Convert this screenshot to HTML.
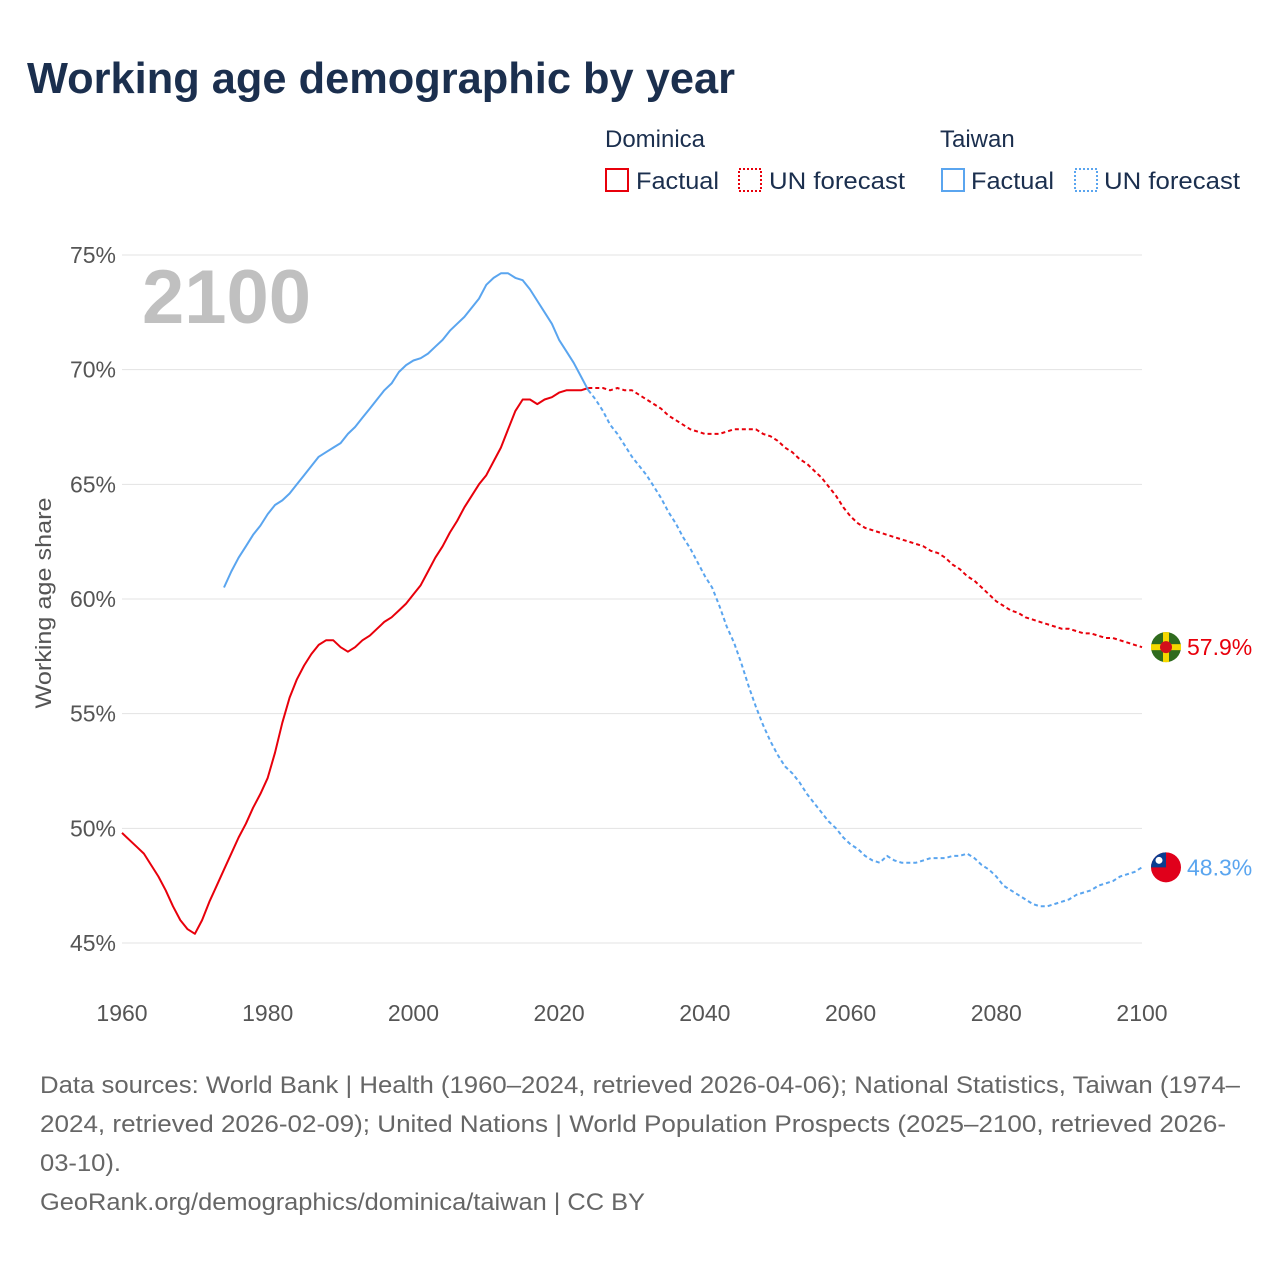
<!DOCTYPE html>
<html><head><meta charset="utf-8"><style>
body{margin:0;background:#fff;font-family:"Liberation Sans",sans-serif;}
#wrap{position:relative;width:1280px;height:1280px;overflow:hidden;}
</style></head><body>
<div id="wrap">
<svg id="chart" width="1280" height="1280" style="position:absolute;left:0;top:0">
<text x="27" y="93" font-size="44" font-weight="bold" fill="#1b2f4e" textLength="708" lengthAdjust="spacingAndGlyphs">Working age demographic by year</text>
<g font-size="24" fill="#1b2f4e">
<text x="605" y="147">Dominica</text>
<rect x="606" y="169" width="22" height="22" fill="none" stroke="#e8000b" stroke-width="2"/>
<text x="636" y="189" textLength="83" lengthAdjust="spacingAndGlyphs">Factual</text>
<rect x="739" y="169" width="22" height="22" fill="none" stroke="#e8000b" stroke-width="2" stroke-dasharray="2,2"/>
<text x="769" y="189" textLength="136" lengthAdjust="spacingAndGlyphs">UN forecast</text>
<text x="940" y="147">Taiwan</text>
<rect x="942" y="169" width="22" height="22" fill="none" stroke="#5aa5ef" stroke-width="2"/>
<text x="971" y="189" textLength="83" lengthAdjust="spacingAndGlyphs">Factual</text>
<rect x="1075" y="169" width="22" height="22" fill="none" stroke="#5aa5ef" stroke-width="2" stroke-dasharray="2,2"/>
<text x="1104" y="189" textLength="136" lengthAdjust="spacingAndGlyphs">UN forecast</text>
</g>
<text x="142" y="323" font-size="76" font-weight="bold" fill="#c0c0c0">2100</text>
<text transform="translate(51,603) rotate(-90)" text-anchor="middle" font-size="22" fill="#555" textLength="211" lengthAdjust="spacingAndGlyphs">Working age share</text>
<g id="grid"></g><g id="series"></g>
<g font-size="24" fill="#666">
<text x="40" y="1093" textLength="1200" lengthAdjust="spacingAndGlyphs">Data sources: World Bank | Health (1960–2024, retrieved 2026-04-06); National Statistics, Taiwan (1974–</text>
<text x="40" y="1132" textLength="1186" lengthAdjust="spacingAndGlyphs">2024, retrieved 2026-02-09); United Nations | World Population Prospects (2025–2100, retrieved 2026-</text>
<text x="40" y="1171" textLength="81" lengthAdjust="spacingAndGlyphs">03-10).</text>
<text x="40" y="1210" textLength="605" lengthAdjust="spacingAndGlyphs">GeoRank.org/demographics/dominica/taiwan | CC BY</text>
</g>
</svg></div>
<script>
const yTicks=[45,50,55,60,65,70,75];
const xTicks=[1960,1980,2000,2020,2040,2060,2080,2100];
const domFactual=[49.8,49.5,49.2,48.9,48.4,47.9,47.3,46.6,46.0,45.6,45.4,46.0,46.8,47.5,48.2,48.9,49.6,50.2,50.9,51.5,52.2,53.3,54.6,55.7,56.5,57.1,57.6,58.0,58.2,58.2,57.9,57.7,57.9,58.2,58.4,58.7,59.0,59.2,59.5,59.8,60.2,60.6,61.2,61.8,62.3,62.9,63.4,64.0,64.5,65.0,65.4,66.0,66.6,67.4,68.2,68.7,68.7,68.5,68.7,68.8,69.0,69.1,69.1,69.1,69.2];
const domForecast=[69.2,69.2,69.2,69.1,69.2,69.1,69.1,68.9,68.7,68.5,68.3,68.0,67.8,67.6,67.4,67.3,67.2,67.2,67.2,67.3,67.4,67.4,67.4,67.4,67.2,67.1,66.9,66.6,66.4,66.1,65.9,65.6,65.3,64.9,64.5,64.0,63.6,63.3,63.1,63.0,62.9,62.8,62.7,62.6,62.5,62.4,62.3,62.1,62.0,61.8,61.5,61.3,61.0,60.8,60.5,60.2,59.9,59.7,59.5,59.4,59.2,59.1,59.0,58.9,58.8,58.7,58.7,58.6,58.5,58.5,58.4,58.3,58.3,58.2,58.1,58.0,57.9];
const twFactual=[60.5,61.2,61.8,62.3,62.8,63.2,63.7,64.1,64.3,64.6,65.0,65.4,65.8,66.2,66.4,66.6,66.8,67.2,67.5,67.9,68.3,68.7,69.1,69.4,69.9,70.2,70.4,70.5,70.7,71.0,71.3,71.7,72.0,72.3,72.7,73.1,73.7,74.0,74.2,74.2,74.0,73.9,73.5,73.0,72.5,72.0,71.3,70.8,70.3,69.7,69.1];
const twForecast=[69.1,68.7,68.2,67.6,67.2,66.7,66.2,65.8,65.4,64.9,64.4,63.8,63.3,62.7,62.2,61.6,61.0,60.5,59.7,58.8,58.1,57.2,56.2,55.3,54.5,53.8,53.2,52.7,52.4,52.0,51.5,51.1,50.7,50.3,50.0,49.6,49.3,49.1,48.8,48.6,48.5,48.8,48.6,48.5,48.5,48.5,48.6,48.7,48.7,48.7,48.8,48.8,48.9,48.7,48.4,48.2,47.9,47.5,47.3,47.1,46.9,46.7,46.6,46.6,46.7,46.8,46.9,47.1,47.2,47.3,47.5,47.6,47.7,47.9,48.0,48.1,48.3];
const NS='http://www.w3.org/2000/svg';
const X=y=>122+(y-1960)*(1020/140);
const Y=v=>255+(75-v)*(688/30);
function mk(t,a,p){const e=document.createElementNS(NS,t);for(const k in a)e.setAttribute(k,a[k]);p.appendChild(e);return e;}
const grid=document.getElementById('grid'),ser=document.getElementById('series');
yTicks.forEach(v=>{
  const l=mk('line',{x1:122,x2:1142,y1:Y(v),y2:Y(v),stroke:'#e3e3e3','stroke-width':1},grid);
  
  
  const t=mk('text',{x:116,y:Y(v)+8,'text-anchor':'end','font-size':23,fill:'#555'},grid);
  t.textContent=v+'%';
  
  
});
xTicks.forEach(v=>{
  const t=mk('text',{x:X(v),y:1021,'text-anchor':'middle','font-size':23,fill:'#555'},grid);
  t.textContent=v;
  
  
});
function line(arr,start,color,dash,name){
  const d=arr.map((v,i)=>(i?'L':'M')+X(start+i).toFixed(1)+','+Y(v).toFixed(1)).join('');
  const p=mk('path',{d:d,fill:'none',stroke:color,'stroke-width':2,'stroke-linejoin':'round'},ser);
  if(dash)p.setAttribute('stroke-dasharray','4,3');
  
  
}
line(domFactual,1960,'#e8000b',false,'dominica-factual-line');
line(domForecast,2024,'#e8000b',true,'dominica-forecast-line');
line(twFactual,1974,'#5aa5ef',false,'taiwan-factual-line');
line(twForecast,2024,'#5aa5ef',true,'taiwan-forecast-line');
function endMark(v,color,name,flag){
  const cy=Y(v),g=mk('g',{},ser);
  
  
  if(flag==='dm'){
    mk('circle',{cx:1166,cy:cy,r:15,fill:'#2f6b1e'},g);
    mk('rect',{x:1151,y:cy-3,width:30,height:6,fill:'#f5d800'},g);
    mk('rect',{x:1163,y:cy-15,width:6,height:30,fill:'#f5d800'},g);
    mk('circle',{cx:1166,cy:cy,r:6,fill:'#d2101a'},g);
  }else{
    mk('circle',{cx:1166,cy:cy,r:15,fill:'#e0001b'},g);
    mk('path',{d:`M1151,${cy} A15,15 0 0 1 1166,${cy-15} L1166,${cy} Z`,fill:'#0a3d91'},g);
    mk('circle',{cx:1159,cy:cy-7,r:3.5,fill:'#fff'},g);
  }
  const t=mk('text',{x:1187,y:cy+8,'font-size':23,fill:color},g);
  t.textContent=v.toFixed(1)+'%';
}
endMark(domForecast[domForecast.length-1],'#e8000b','dominica','dm');
endMark(twForecast[twForecast.length-1],'#5aa5ef','taiwan','tw');
</script>
</body></html>
